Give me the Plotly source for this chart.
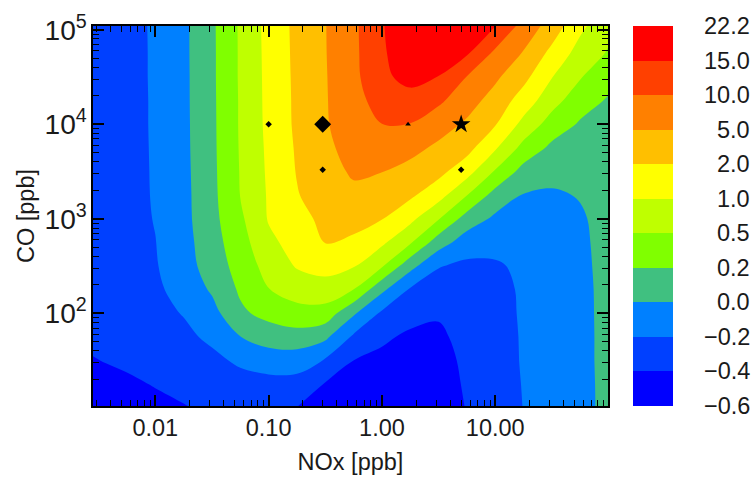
import numpy as np
import plotly.graph_objects as go

# grid positions (log10 of NOx and CO, ppb)
nox_log10 = [-2.6, -2.25, -2.0, -1.75, -1.5, -1.25, -1.0, -0.75, -0.5, -0.25,
             0.0, 0.25, 0.5, 0.75, 1.0, 1.25, 1.5, 1.75, 2.0]
co_log10 = [1.0, 1.25, 1.5, 1.75, 2.0, 2.25, 2.5, 2.75, 3.0, 3.25, 3.5,
            3.75, 4.0, 4.25, 4.5, 4.75, 5.05]

# field values (rows = CO, columns = NOx)
z_rows = [
    [-0.49, -0.46, -0.43, -0.41, -0.37, -0.34, -0.33, -0.402, -0.48, -0.51, -0.53, -0.54, -0.52, -0.39, -0.30, -0.196, -0.12, -0.046, 0.04],
    [-0.44, -0.42, -0.394, -0.356, -0.324, -0.28, -0.27, -0.272, -0.414, -0.456, -0.49, -0.51, -0.51, -0.37, -0.30, -0.19, -0.116, -0.044, 0.04],
    [-0.41, -0.38, -0.34, -0.302, -0.25, -0.166, -0.102, -0.11, -0.216, -0.402, -0.44, -0.476, -0.49, -0.35, -0.296, -0.182, -0.112, -0.04, 0.04],
    [-0.38, -0.34, -0.29, -0.246, -0.16, -0.004, 0.086, 0.118, 0.038, -0.234, -0.372, -0.43, -0.44, -0.33, -0.29, -0.18, -0.11, -0.04, 0.04],
    [-0.36, -0.316, -0.26, -0.19, -0.07, 0.164, 0.293, 0.389, 0.38, 0.026, -0.234, -0.34, -0.378, -0.31, -0.28, -0.174, -0.106, -0.038, 0.04],
    [-0.34, -0.296, -0.236, -0.128, 0.024, 0.242, 0.491, 0.725, 0.785, 0.497, 0.042, -0.224, -0.286, -0.28, -0.26, -0.174, -0.10, -0.036, 0.04],
    [-0.33, -0.28, -0.214, -0.088, 0.094, 0.311, 0.69, 1.08, 1.34, 1.06, 0.545, 0.066, -0.19, -0.24, -0.224, -0.162, -0.096, -0.032, 0.044],
    [-0.32, -0.27, -0.204, -0.072, 0.12, 0.377, 0.89, 1.37, 2.06, 1.82, 1.18, 0.55, 0.094, -0.104, -0.134, -0.12, -0.08, -0.028, 0.05],
    [-0.32, -0.264, -0.192, -0.058, 0.14, 0.446, 1.07, 1.66, 2.75, 3.02, 2.09, 1.26, 0.525, 0.112, -0.038, -0.06, -0.056, -0.02, 0.06],
    [-0.32, -0.26, -0.186, -0.056, 0.148, 0.51, 1.1, 1.94, 3.5, 4.37, 3.56, 2.48, 1.39, 0.51, 0.12, -0.01, -0.024, 0.01, 0.07],
    [-0.32, -0.26, -0.184, -0.052, 0.154, 0.525, 1.15, 2.15, 3.98, 5.6, 5.1, 4.01, 2.84, 1.4, 0.47, 0.128, 0.058, 0.064, 0.084],
    [-0.32, -0.26, -0.182, -0.048, 0.158, 0.54, 1.19, 2.33, 4.4, 6.75, 7.55, 6.5, 4.4, 2.99, 1.12, 0.401, 0.156, 0.12, 0.11],
    [-0.32, -0.26, -0.18, -0.046, 0.16, 0.55, 1.24, 2.54, 4.76, 7.4, 9.95, 9.85, 7.15, 4.55, 2.18, 0.85, 0.368, 0.178, 0.14],
    [-0.32, -0.26, -0.18, -0.044, 0.162, 0.55, 1.26, 2.57, 4.79, 8.25, 12.0, 13.45, 10.85, 7.0, 3.83, 1.55, 0.685, 0.323, 0.18],
    [-0.32, -0.26, -0.178, -0.044, 0.164, 0.56, 1.27, 2.63, 4.82, 8.7, 14.15, 16.8, 14.9, 9.8, 5.85, 2.84, 1.03, 0.53, 0.299],
    [-0.32, -0.26, -0.178, -0.042, 0.164, 0.56, 1.29, 2.69, 4.88, 8.9, 14.4, 18.96, 18.6, 15.72, 8.9, 4.76, 1.72, 0.8, 0.47],
    [-0.32, -0.26, -0.176, -0.042, 0.166, 0.565, 1.32, 2.75, 4.91, 9.0, 14.65, 20.04, 21.12, 19.32, 15.36, 8.35, 3.77, 1.25, 0.65],
]

levels = [-0.6, -0.4, -0.2, 0.0, 0.2, 0.5, 1.0, 2.0, 5.0, 10.0, 15.0, 22.2]
level_labels = ["\u22120.6", "\u22120.4", "\u22120.2", "0.0", "0.2", "0.5",
                "1.0", "2.0", "5.0", "10.0", "15.0", "22.2"]
band_colors = ["#0000ff", "#0040ff", "#0080ff", "#40c080", "#80ff00", "#bfff00",
               "#ffff00", "#ffbf00", "#ff8000", "#ff4000", "#ff0000"]

# marked points
pt_nox = [0.1, 0.3, 1.7, 5.0, 0.3, 5.0]
pt_co = [1.0e4, 3.3e3, 1.0e4, 3.3e3, 1.0e4, 1.0e4]
pt_symbol = ["diamond", "diamond", "triangle-up", "diamond", "diamond", "star"]
pt_size = [5, 5, 5, 5, 13, 14]

nox = [10 ** u for u in nox_log10]
co = [10 ** v for v in co_log10]
z = np.array(z_rows, dtype=float)
idx = np.arange(len(levels), dtype=float)
band = np.interp(z, levels, idx)   # place values on the (non-uniform) level scale

nb = len(band_colors)
cscale = []
for k, c in enumerate(band_colors):
    cscale.append([k / nb, c])
    cscale.append([(k + 1) / nb, c])

FONT = "Liberation Sans, Arial, sans-serif"
TXT = "#1a1a1a"
FS = 23.5

fig = go.Figure()
fig.add_trace(go.Contour(
    x=nox, y=co, z=band,
    zmin=0, zmax=nb, autocontour=False,
    contours=dict(start=0, end=nb, size=1, coloring="fill", showlines=False),
    line=dict(width=0, smoothing=1.0),
    colorscale=cscale,
    colorbar=dict(thickness=40, thicknessmode="pixels", len=1, lenmode="fraction",
                  y=0.5, yanchor="middle", x=1.0485, xanchor="left",
                  xpad=0, ypad=0, outlinewidth=0, showticklabels=False, ticks=""),
    hoverinfo="skip",
))
fig.add_trace(go.Scatter(
    x=pt_nox, y=pt_co, mode="markers", opacity=1,
    marker=dict(symbol=pt_symbol, size=pt_size, color="#000000", opacity=1,
                line=dict(width=0)),
    showlegend=False, hoverinfo="skip",
))

plot_w = 755 - 93 - 147
for k, lab in enumerate(level_labels):
    fig.add_annotation(x=(752 - 93) / plot_w, y=k / nb, xref="paper", yref="paper",
                       text=lab, showarrow=False, xanchor="right", yanchor="middle",
                       font=dict(family=FONT, size=FS, color=TXT))

axis_common = dict(showline=True, linecolor="black", linewidth=1.5, mirror="ticks",
                   ticks="inside", ticklen=11, tickwidth=1.5, tickcolor="black",
                   showgrid=False, zeroline=False,
                   minor=dict(ticks="inside", ticklen=6, tickwidth=1.2, tickcolor="black",
                              dtick="D1", showgrid=False))

fig.update_xaxes(type="log", range=[-2.55, 1.995], dtick=1, tickformat=".2f",
                 tickfont=dict(family=FONT, size=FS, color=TXT),
                 title=dict(text="NOx [ppb]", font=dict(family=FONT, size=FS, color=TXT), standoff=14),
                 ticklabelstandoff=0, **axis_common)
fig.update_yaxes(type="log", range=[1.02, 5.04], dtick=1, exponentformat="power",
                 tickfont=dict(family=FONT, size=22.5, color=TXT),
                 title=dict(text="CO [ppb]", font=dict(family=FONT, size=FS, color=TXT), standoff=3),
                 ticklabelstandoff=0, **axis_common)

fig.update_layout(width=755, height=479,
                  margin=dict(l=93, r=147, t=26, b=73, autoexpand=False),
                  paper_bgcolor="white", plot_bgcolor="white", showlegend=False)

fig.write_html("out.html", config={"displayModeBar": False},
               post_script="document.body.style.margin='0px';document.body.style.padding='0px';")
